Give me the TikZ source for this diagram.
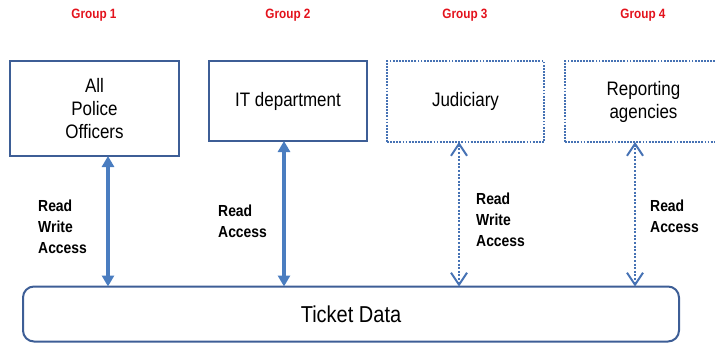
\documentclass[tikz,border=0pt]{standalone}
\usepackage{fontspec}
\setmainfont{Liberation Sans}[FakeStretch=0.87]
\usetikzlibrary{arrows.meta,calc}
\definecolor{grpred}{HTML}{E3121C}
\definecolor{boxblue}{HTML}{3D5E96}
\definecolor{arrblue}{HTML}{4A7DC0}
\definecolor{dotblue}{HTML}{4672B4}
\tikzset{
  solidbox/.style={draw=boxblue, line width=2.4pt, rectangle, inner sep=0pt, outer sep=0pt, align=center, font=\fontsize{19.5}{23}\selectfont},
  dotbox/.style={draw=dotblue, line width=2pt, dash pattern=on 1.8pt off 1.3pt, rectangle, inner sep=0pt, outer sep=0pt, align=center, font=\fontsize{19.5}{23}\selectfont},
  grplabel/.style={text=grpred, font=\fontsize{13.5}{16}\selectfont\bfseries, inner sep=0pt},
  acclabel/.style={font=\fontsize{16}{21}\selectfont\bfseries, align=left, inner sep=0pt, anchor=north west},
  solidarr/.style={draw=arrblue, line width=4pt, {Triangle[width=12pt,length=11pt]}-{Triangle[width=12pt,length=11pt]}},
  dotarr/.style={draw=dotblue, line width=2pt, dash pattern=on 2pt off 1.6pt, {Straight Barb[width=16pt,length=12pt,line width=2pt]}-{Straight Barb[width=16pt,length=12pt,line width=2pt]}},
}
\begin{document}
\begin{tikzpicture}[x=1pt,y=-1pt]
\useasboundingbox (0,0) rectangle (715,343);
% group labels
\node[grplabel] (g1) at (94,15) {Group 1};
\node[grplabel] (g2) at (288,15) {Group 2};
\node[grplabel] (g3) at (465,15) {Group 3};
\node[grplabel] (g4) at (643,15) {Group 4};
% boxes
\node[solidbox, minimum width=169pt, minimum height=95pt] (b1) at (94.5,108.5) {All\\Police\\Officers};
\node[solidbox, minimum width=158pt, minimum height=80pt] (b2) at (288,101) {IT department};
\node[dotbox, minimum width=157pt, minimum height=81pt] (b3) at (465.5,101.5) {Judiciary};
\node[dotbox, minimum width=157pt, minimum height=81pt] (b4) at (643.5,101.5) {Reporting\\agencies};
\node[draw=boxblue, line width=2pt, rounded corners=11pt, minimum width=656pt, minimum height=55pt, inner sep=0pt, outer sep=0pt, font=\fontsize{23}{27}\selectfont] (td) at (351,314) {Ticket Data};
% connectors
\draw[solidarr] ([xshift=13.5pt]b1.south) -- ([xshift=13.5pt]b1.south |- td.north);
\draw[solidarr] ([xshift=-4pt]b2.south) -- ([xshift=-4pt]b2.south |- td.north);
\draw[dotarr] ([xshift=-6.5pt]b3.south) -- ([xshift=-6.5pt]b3.south |- td.north);
\draw[dotarr] ([xshift=-8.5pt]b4.south) -- ([xshift=-8.5pt]b4.south |- td.north);
% access labels
\node[acclabel] (l1) at (38,199.5) {Read\\Write\\Access};
\node[acclabel] (l2) at (218,204.5) {Read\\Access};
\node[acclabel] (l3) at (476,192.5) {Read\\Write\\Access};
\node[acclabel] (l4) at (650,199.5) {Read\\Access};
\end{tikzpicture}
\end{document}
